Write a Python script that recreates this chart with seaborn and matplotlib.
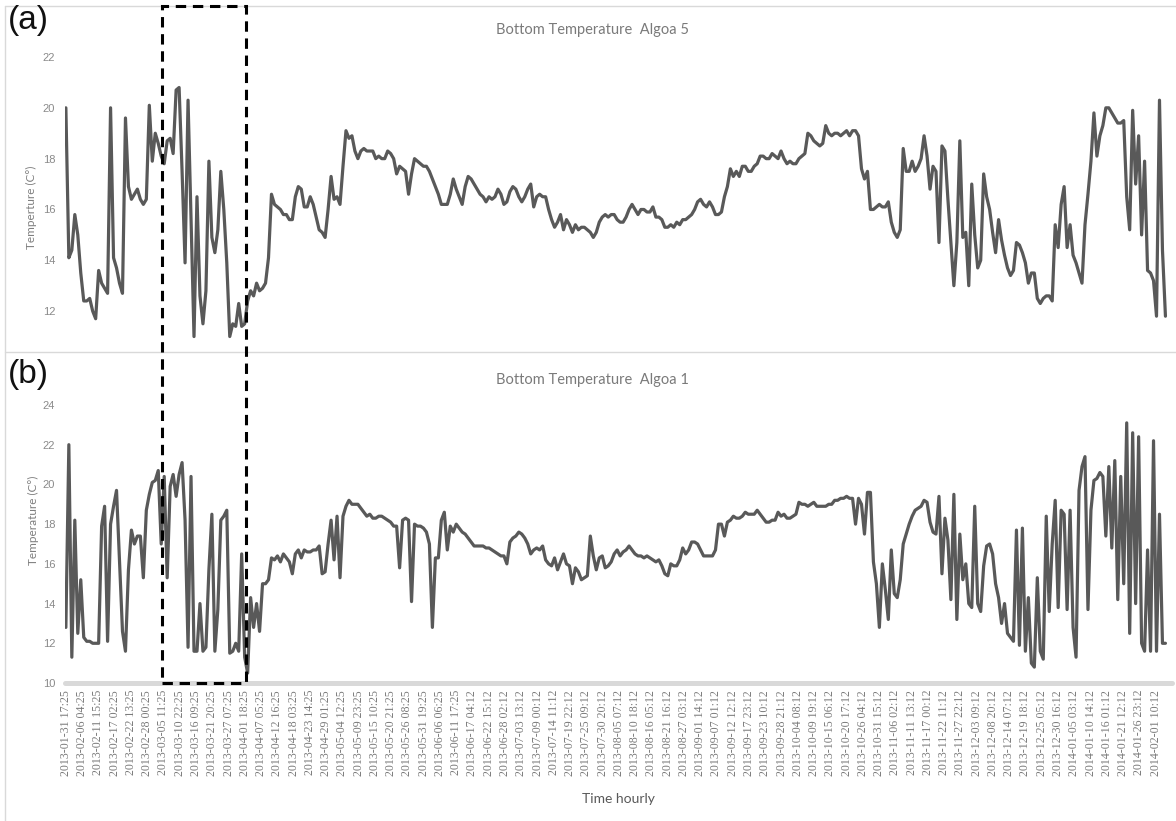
import matplotlib
matplotlib.use("Agg")
import matplotlib.pyplot as plt
import matplotlib.dates as mdates
from matplotlib.patches import Rectangle
from matplotlib.lines import Line2D
import pandas as pd
import seaborn as sns

# Daily bottom-temperature readings (deg C), first record 2013-01-31 17:25
start_time = "2013-01-31 17:25"

algoa5_temp = [
    20.0, 14.1, 14.4, 15.8, 15.0, 13.5, 12.4, 12.4, 12.5, 12.0,
    11.7, 13.6, 13.1, 12.9, 12.7, 20.0, 14.1, 13.7, 13.1, 12.7,
    19.6, 16.9, 16.4, 16.6, 16.8, 16.4, 16.2, 16.4, 20.1, 17.9,
    19.0, 18.6, 18.1, 17.8, 18.7, 18.8, 18.2, 20.7, 20.8, 17.5,
    13.9, 20.3, 15.6, 11.0, 16.5, 12.6, 11.5, 12.8, 17.9, 14.9,
    14.3, 15.2, 17.5, 16.0, 13.9, 11.0, 11.5, 11.4, 12.3, 11.4,
    11.5, 12.4, 12.8, 12.6, 13.1, 12.8, 12.9, 13.1, 14.1, 16.6,
    16.2, 16.1, 16.0, 15.8, 15.8, 15.6, 15.6, 16.5, 16.9, 16.8,
    16.1, 16.1, 16.5, 16.2, 15.7, 15.2, 15.1, 14.9, 16.0, 17.3,
    16.4, 16.5, 16.2, 17.7, 19.1, 18.8, 18.9, 18.3, 18.0, 18.3,
    18.4, 18.3, 18.3, 18.3, 18.0, 18.1, 18.0, 18.0, 18.3, 18.2,
    18.0, 17.4, 17.7, 17.6, 17.5, 16.6, 17.4, 18.0, 17.9, 17.8,
    17.7, 17.7, 17.5, 17.2, 16.9, 16.6, 16.2, 16.2, 16.2, 16.6,
    17.2, 16.8, 16.5, 16.2, 16.9, 17.3, 17.2, 17.0, 16.8, 16.6,
    16.5, 16.3, 16.5, 16.4, 16.5, 16.8, 16.6, 16.2, 16.3, 16.7,
    16.9, 16.8, 16.5, 16.3, 16.5, 16.8, 17.0, 16.1, 16.5, 16.6,
    16.5, 16.5, 16.0, 15.6, 15.3, 15.5, 15.8, 15.2, 15.6, 15.4,
    15.1, 15.4, 15.2, 15.3, 15.3, 15.2, 15.1, 14.9, 15.1, 15.5,
    15.7, 15.8, 15.7, 15.8, 15.8, 15.6, 15.5, 15.5, 15.7, 16.0,
    16.2, 16.0, 15.8, 16.0, 16.0, 15.9, 15.9, 16.1, 15.7, 15.7,
    15.6, 15.3, 15.3, 15.4, 15.3, 15.5, 15.4, 15.6, 15.6, 15.7,
    15.8, 16.0, 16.3, 16.4, 16.2, 16.1, 16.3, 16.1, 15.8, 15.8,
    15.9, 16.5, 16.9, 17.6, 17.3, 17.5, 17.3, 17.7, 17.7, 17.5,
    17.5, 17.7, 17.8, 18.1, 18.1, 18.0, 18.0, 18.2, 18.1, 18.0,
    18.3, 18.0, 17.8, 17.9, 17.8, 17.8, 18.0, 18.1, 18.2, 19.0,
    18.9, 18.7, 18.6, 18.5, 18.6, 19.3, 19.0, 18.9, 19.0, 19.0,
    18.9, 19.0, 19.1, 18.9, 19.1, 19.1, 18.9, 17.6, 17.2, 17.5,
    16.0, 16.0, 16.1, 16.2, 16.1, 16.1, 16.3, 15.5, 15.1, 14.9,
    15.2, 18.4, 17.5, 17.5, 17.9, 17.5, 17.7, 18.0, 18.9, 18.1,
    16.8, 17.7, 17.5, 14.7, 18.5, 18.3, 16.4, 14.7, 13.0, 14.7,
    18.7, 14.9, 15.1, 13.0, 17.0, 15.0, 13.7, 14.0, 17.4, 16.5,
    16.0, 15.1, 14.3, 15.6, 14.8, 14.2, 13.7, 13.4, 13.6, 14.7,
    14.6, 14.3, 13.9, 13.1, 13.5, 13.5, 12.5, 12.3, 12.5, 12.6,
    12.6, 12.4, 15.4, 14.5, 16.2, 16.9, 14.5, 15.4, 14.2, 13.9,
    13.5, 13.1, 15.4, 16.6, 17.9, 19.8, 18.1, 18.9, 19.3, 20.0,
    20.0, 19.8, 19.6, 19.4, 19.4, 19.5, 16.5, 15.2, 19.9, 17.0,
    18.9, 15.0, 17.9, 13.6, 13.5, 13.2, 11.8, 20.3, 14.4, 11.8,
]

algoa1_temp = [
    12.8, 22.0, 11.3, 18.2, 12.5, 15.2, 12.3, 12.1, 12.1, 12.0,
    12.0, 12.0, 17.9, 18.9, 12.1, 18.0, 18.9, 19.7, 16.2, 12.6,
    11.6, 15.7, 17.7, 17.0, 17.4, 17.4, 15.3, 18.7, 19.5, 20.1,
    20.2, 20.7, 17.0, 20.4, 15.3, 19.9, 20.5, 19.4, 20.5, 21.1,
    18.2, 11.8, 20.4, 11.6, 11.6, 14.0, 11.6, 11.8, 15.7, 18.5,
    11.6, 13.7, 18.2, 18.4, 18.7, 11.5, 11.6, 12.0, 11.6, 16.5,
    11.3, 10.5, 14.3, 12.8, 14.0, 12.6, 15.0, 15.0, 15.2, 16.3,
    16.2, 16.4, 16.1, 16.5, 16.3, 16.1, 15.5, 16.5, 16.7, 16.3,
    16.7, 16.6, 16.6, 16.7, 16.7, 16.9, 15.5, 15.6, 17.0, 18.2,
    16.2, 18.4, 15.3, 18.4, 18.9, 19.2, 19.0, 19.0, 19.0, 18.8,
    18.6, 18.4, 18.5, 18.3, 18.3, 18.4, 18.4, 18.3, 18.2, 18.1,
    17.9, 17.9, 15.8, 18.2, 18.3, 18.2, 14.1, 18.0, 17.9, 17.9,
    17.8, 17.6, 17.0, 12.8, 16.3, 16.3, 18.2, 18.6, 16.7, 17.9,
    17.6, 18.0, 17.8, 17.6, 17.5, 17.3, 17.1, 16.9, 16.9, 16.9,
    16.9, 16.8, 16.8, 16.7, 16.6, 16.5, 16.4, 16.4, 16.0, 17.1,
    17.3, 17.4, 17.6, 17.5, 17.3, 17.0, 16.5, 16.7, 16.8, 16.7,
    16.9, 16.2, 16.0, 15.9, 16.3, 15.7, 16.1, 16.5, 16.0, 15.9,
    15.0, 15.8, 15.6, 15.2, 15.3, 15.4, 17.4, 16.4, 15.7, 16.3,
    16.4, 15.8, 15.9, 16.1, 16.5, 16.7, 16.4, 16.6, 16.7, 16.9,
    16.7, 16.5, 16.4, 16.4, 16.3, 16.4, 16.3, 16.2, 16.1, 16.2,
    15.9, 15.5, 15.4, 16.0, 15.9, 15.9, 16.2, 16.8, 16.5, 16.7,
    17.1, 17.1, 17.0, 16.7, 16.4, 16.4, 16.4, 16.4, 16.7, 18.0,
    18.0, 17.4, 18.1, 18.2, 18.4, 18.3, 18.3, 18.4, 18.6, 18.5,
    18.5, 18.5, 18.7, 18.5, 18.3, 18.1, 18.1, 18.2, 18.2, 18.6,
    18.4, 18.5, 18.3, 18.3, 18.4, 18.5, 19.1, 19.0, 19.0, 18.9,
    19.0, 19.1, 18.9, 18.9, 18.9, 18.9, 19.0, 19.0, 19.2, 19.2,
    19.3, 19.3, 19.4, 19.3, 19.3, 18.0, 19.3, 19.0, 17.5, 19.6,
    19.6, 16.1, 15.0, 12.8, 16.0, 14.7, 13.2, 16.7, 14.5, 14.3,
    15.2, 17.0, 17.5, 18.0, 18.4, 18.7, 18.8, 18.9, 19.2, 19.1,
    18.1, 17.6, 17.5, 19.4, 15.5, 18.3, 17.2, 14.2, 19.5, 13.2,
    17.5, 15.2, 16.0, 14.0, 13.8, 18.9, 14.0, 13.6, 15.9, 16.9,
    17.0, 16.5, 15.0, 14.3, 13.0, 14.0, 12.5, 12.3, 12.1, 17.7,
    11.9, 17.8, 11.6, 14.3, 11.0, 10.8, 15.3, 11.6, 11.2, 18.4,
    13.6, 17.0, 19.2, 13.8, 18.7, 18.5, 13.7, 18.7, 12.8, 11.3,
    19.7, 20.9, 21.4, 13.7, 18.7, 20.2, 20.3, 20.6, 20.4, 17.4,
    20.9, 16.8, 21.2, 14.2, 20.4, 15.0, 23.1, 12.5, 22.6, 14.0,
    22.4, 12.0, 11.6, 16.7, 11.6, 22.2, 11.6, 18.5, 12.0, 12.0,
]

tick_labels = [
    "2013-01-31 17:25", "2013-02-06 04:25", "2013-02-11 15:25", "2013-02-17 02:25",
    "2013-02-22 13:25", "2013-02-28 00:25", "2013-03-05 11:25", "2013-03-10 22:25",
    "2013-03-16 09:25", "2013-03-21 20:25", "2013-03-27 07:25", "2013-04-01 18:25",
    "2013-04-07 05:25", "2013-04-12 16:25", "2013-04-18 03:25", "2013-04-23 14:25",
    "2013-04-29 01:25", "2013-05-04 12:25", "2013-05-09 23:25", "2013-05-15 10:25",
    "2013-05-20 21:25", "2013-05-26 08:25", "2013-05-31 19:25", "2013-06-06 06:25",
    "2013-06-11 17:25", "2013-06-17 04:12", "2013-06-22 15:12", "2013-06-28 02:12",
    "2013-07-03 13:12", "2013-07-09 00:12", "2013-07-14 11:12", "2013-07-19 22:12",
    "2013-07-25 09:12", "2013-07-30 20:12", "2013-08-05 07:12", "2013-08-10 18:12",
    "2013-08-16 05:12", "2013-08-21 16:12", "2013-08-27 03:12", "2013-09-01 14:12",
    "2013-09-07 01:12", "2013-09-12 12:12", "2013-09-17 23:12", "2013-09-23 10:12",
    "2013-09-28 21:12", "2013-10-04 08:12", "2013-10-09 19:12", "2013-10-15 06:12",
    "2013-10-20 17:12", "2013-10-26 04:12", "2013-10-31 15:12", "2013-11-06 02:12",
    "2013-11-11 13:12", "2013-11-17 00:12", "2013-11-22 11:12", "2013-11-27 22:12",
    "2013-12-03 09:12", "2013-12-08 20:12", "2013-12-14 07:12", "2013-12-19 18:12",
    "2013-12-25 05:12", "2013-12-30 16:12", "2014-01-05 03:12", "2014-01-10 14:12",
    "2014-01-16 01:12", "2014-01-21 12:12", "2014-01-26 23:12", "2014-02-01 10:12",
]

yticks_a = [12, 14, 16, 18, 20, 22]
yticks_b = [10, 12, 14, 16, 18, 20, 22, 24]

# highlighted period drawn as a dashed box across both panels
highlight_span = ("2013-03-05 02:00", "2013-04-02 06:00")

sns.set_theme(style="white")
plt.rcParams["font.family"] = ["Liberation Sans", "DejaVu Sans"]

W, H = 1176, 821
fig = plt.figure(figsize=(W / 100, H / 100), dpi=100)


def px_box(left, top, right, bottom):
    return [left / W, 1 - bottom / H, (right - left) / W, (bottom - top) / H]


ax_a = fig.add_axes(px_box(65, 57, 1172, 350))
ax_b = fig.add_axes(px_box(65, 405, 1172, 683))

times = pd.date_range(start_time, periods=len(algoa5_temp), freq="D")
df = pd.DataFrame({"time": times, "algoa5": algoa5_temp, "algoa1": algoa1_temp})

line_color = "#595959"
for ax, col in ((ax_a, "algoa5"), (ax_b, "algoa1")):
    sns.lineplot(data=df, x="time", y=col, ax=ax, color=line_color,
                 linewidth=2.3, estimator=None, sort=False)
    for s in ax.spines.values():
        s.set_visible(False)
    ax.set_xlabel("")
    ax.set_ylabel("")
    ax.grid(False)
    t0 = pd.Timestamp(start_time)
    ax.set_xlim(t0 - pd.Timedelta(hours=7), t0 + pd.Timedelta(days=371.2))

tick_color = "#8a8a8a"
ax_a.set_ylim(10.47, 22)
ax_a.set_yticks(yticks_a)
ax_a.set_xticks([])
ax_a.tick_params(axis="y", length=0, pad=7, labelsize=8, labelcolor=tick_color)

ax_b.set_ylim(10, 24)
ax_b.set_yticks(yticks_b)
ax_b.tick_params(axis="y", length=0, pad=7, labelsize=8, labelcolor=tick_color)
ax_b.set_xticks(pd.to_datetime(tick_labels))
ax_b.set_xticklabels(tick_labels, rotation=90, fontsize=8.6,
                     family=["Liberation Serif", "DejaVu Serif"], color="#7a7a7a")
ax_b.tick_params(axis="x", length=0, pad=5)
ax_b.axhline(10, color="#d9d9d9", linewidth=3.6, zorder=1, clip_on=False)

# texts
title_kw = dict(ha="center", va="center", fontsize=10.5, color="#7a7a7a",
                family=["Lato", "DejaVu Sans"])
fig.text(592 / W, 1 - 30 / H, "Bottom Temperature  Algoa 5", **title_kw)
fig.text(592 / W, 1 - 380 / H, "Bottom Temperature  Algoa 1", **title_kw)
fig.text(618 / W, 1 - 799 / H, "Time hourly", ha="center", va="center",
         fontsize=10, color="#595959", family=["Lato", "DejaVu Sans"])
ylab_kw = dict(rotation=90, ha="center", va="center", fontsize=8.5, color="#7f7f7f",
               family=["Lato", "DejaVu Sans"])
fig.text(31 / W, 1 - 207 / H, "Temperture (C°)", **ylab_kw)
fig.text(33 / W, 1 - 520 / H, "Temperature (C°)", **ylab_kw)
fig.text(8 / W, 1 - 21 / H, "(a)", ha="left", va="center", fontsize=24, color="#111111")
fig.text(8 / W, 1 - 374 / H, "(b)", ha="left", va="center", fontsize=24, color="#111111")

# panel frames
frame_kw = dict(color="#d9d9d9", linewidth=1.0, transform=fig.transFigure)
fig.add_artist(Line2D([5 / W, 5 / W], [0, 1 - 6 / H], **frame_kw))
fig.add_artist(Line2D([5 / W, 1], [1 - 6 / H, 1 - 6 / H], **frame_kw))
fig.add_artist(Line2D([5 / W, 1], [1 - 352 / H, 1 - 352 / H], **frame_kw))

# dashed highlight box spanning both panels
fig.canvas.draw()
inv = fig.transFigure.inverted()
x_left = mdates.date2num(pd.Timestamp(highlight_span[0]))
x_right = mdates.date2num(pd.Timestamp(highlight_span[1]))
p0 = inv.transform(ax_b.transData.transform((x_left, 10)))
p1 = inv.transform(ax_b.transData.transform((x_right, 10)))
top = 1 - 6 / H
fig.add_artist(Rectangle((p0[0], p0[1]), p1[0] - p0[0], top - p0[1],
                         transform=fig.transFigure, fill=False, edgecolor="black",
                         linewidth=2.2, linestyle=(0, (3.4, 2.2)), zorder=10))

fig.savefig("out.png", dpi=100)
